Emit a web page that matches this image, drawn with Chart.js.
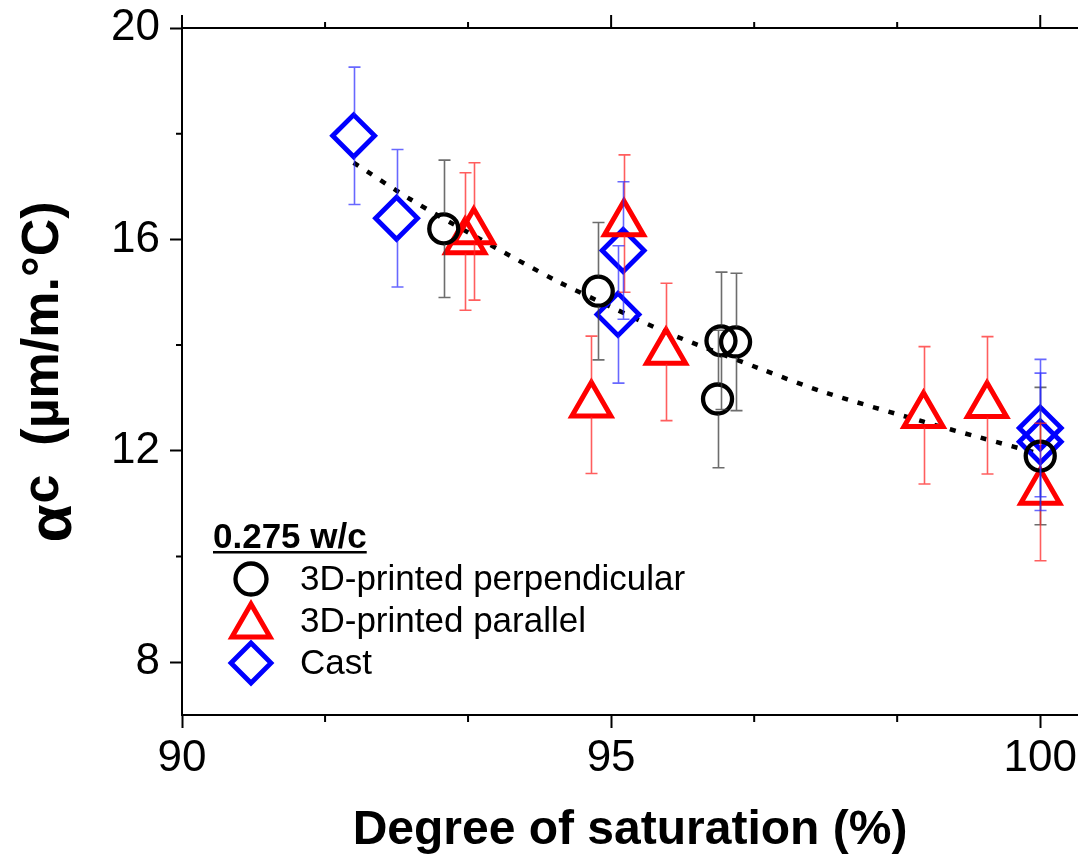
<!DOCTYPE html>
<html><head><meta charset="utf-8">
<script src="https://cdn.jsdelivr.net/npm/chart.js@4.4.1/dist/chart.umd.min.js"></script>
<style>html,body{margin:0;padding:0;background:#fff}#wrap{width:1078px;height:855px}</style>
</head><body><div id="wrap"><canvas id="c" width="1078" height="855"></canvas></div>
<script>
// ---- data ----
const perpX = [93.05, 94.85, 96.24, 96.28, 96.45, 100.0];
const perpY = [16.2, 15.02, 12.98, 14.08, 14.06, 11.9];
const perpErr = [1.3, 1.3, 1.3, 1.3, 1.3, 1.3];

const paraX = [93.3, 93.4, 94.77, 95.15, 95.64, 98.64, 99.38, 100.0];
const paraY = [15.96, 16.15, 12.87, 16.3, 13.87, 12.67, 12.86, 11.22];
const paraErr = [1.3, 1.3, 1.3, 1.3, 1.3, 1.3, 1.3, 1.3];

const castX = [92.0, 92.5, 95.08, 95.14, 100.0, 100.0];
const castY = [17.96, 16.4, 14.58, 15.79, 12.43, 12.17];
const castErr = [1.3, 1.3, 1.3, 1.3, 1.3, 1.3];

const fitX = [92.0, 92.66, 93.39, 94.37, 95.0, 95.63, 96.74, 97.5, 98.64, 99.3, 100.0];
const fitY = [17.45, 16.76, 16.08, 15.21, 14.72, 14.25, 13.55, 13.1, 12.55, 12.25, 11.94];

const xTicks = [90, 95, 100];
const xMinor = [91.667, 93.333, 96.667, 98.333];
const yTicks = [8, 12, 16, 20];
const yMinor = [10, 14, 18];

const legendTitle = '0.275 w/c';
const seriesNames = ['3D-printed perpendicular', '3D-printed parallel', 'Cast'];
const xTitle = 'Degree of saturation (%)';

const FONT = "'Liberation Sans', Arial, sans-serif";
const pts = (xs, ys) => xs.map((x, i) => ({x: x, y: ys[i]}));

const styles = [
  {pointStyle: 'circle', radius: 14.5, bw: 4.3, color: '#000000', err: 'rgba(60,60,60,0.75)', gapT: 15, gapB: 15},
  {pointStyle: 'triangle', radius: 22.5, bw: 5, color: '#ff0000', err: 'rgba(255,40,40,0.75)', gapT: 23, gapB: 12},
  {pointStyle: 'rectRot', radius: 21, bw: 4.8, color: '#0000ff', err: 'rgba(40,40,255,0.7)', gapT: 21, gapB: 21}
];

function scat(label, xs, ys, errs, st) {
  return {type: 'scatter', label: label, data: pts(xs, ys), errors: errs, st: st,
    pointStyle: st.pointStyle, pointRadius: st.radius, pointHoverRadius: st.radius,
    pointBorderWidth: st.bw, borderColor: st.color, pointBorderColor: st.color,
    backgroundColor: 'rgba(0,0,0,0)', pointBackgroundColor: 'rgba(0,0,0,0)', showLine: false, clip: false};
}

const errorBars = {
  id: 'errorBars',
  afterDatasetsDraw(chart) {
    const ctx = chart.ctx, ys = chart.scales.y;
    chart.data.datasets.forEach((ds, i) => {
      if (!ds.errors) return;
      const meta = chart.getDatasetMeta(i), st = ds.st;
      ctx.save();
      ctx.strokeStyle = st.err; ctx.lineWidth = 1.6;
      meta.data.forEach((el, j) => {
        const v = ds.data[j].y, e = ds.errors[j];
        const px = Math.round(el.x) + 0.5, py = el.y;
        const t = ys.getPixelForValue(v + e), b = ys.getPixelForValue(v - e);
        ctx.beginPath();
        ctx.moveTo(px, py - st.gapT); ctx.lineTo(px, t);
        ctx.moveTo(px, py + st.gapB); ctx.lineTo(px, b);
        ctx.moveTo(px - 6, t); ctx.lineTo(px + 6, t);
        ctx.moveTo(px - 6, b); ctx.lineTo(px + 6, b);
        ctx.stroke();
      });
      ctx.restore();
    });
  }
};

function marker(ctx, style, x, y, r, bw, color) {
  ctx.save();
  ctx.strokeStyle = color; ctx.lineWidth = bw; ctx.lineJoin = 'miter';
  ctx.beginPath();
  if (style === 'circle') ctx.arc(x, y, r, 0, Math.PI * 2);
  else if (style === 'triangle') {
    for (let k = 0; k < 3; k++) {
      const a = k * 2 * Math.PI / 3;
      const X = x + Math.sin(a) * r, Y = y - Math.cos(a) * r;
      k ? ctx.lineTo(X, Y) : ctx.moveTo(X, Y);
    }
    ctx.closePath();
  } else {
    ctx.moveTo(x - r, y); ctx.lineTo(x, y - r); ctx.lineTo(x + r, y); ctx.lineTo(x, y + r); ctx.closePath();
  }
  ctx.stroke();
  ctx.restore();
}

const decor = {
  id: 'decor',
  afterDraw(chart) {
    const ctx = chart.ctx, xs = chart.scales.x, ys = chart.scales.y, a = chart.chartArea;
    ctx.save();
    ctx.strokeStyle = '#000'; ctx.lineWidth = 2;
    // top axis
    ctx.beginPath();
    ctx.moveTo(a.left - 1, a.top); ctx.lineTo(a.right, a.top);
    xTicks.forEach(v => { const p = xs.getPixelForValue(v); ctx.moveTo(p, a.top); ctx.lineTo(p, a.top - 13); });
    xMinor.forEach(v => { const p = xs.getPixelForValue(v); ctx.moveTo(p, a.top); ctx.lineTo(p, a.top - 6); });
    // bottom minor
    xMinor.forEach(v => { const p = xs.getPixelForValue(v); ctx.moveTo(p, a.bottom); ctx.lineTo(p, a.bottom + 7); });
    // left minor
    yMinor.forEach(v => { const p = ys.getPixelForValue(v); ctx.moveTo(a.left, p); ctx.lineTo(a.left - 6, p); });
    ctx.stroke();

    // y title (rotated, centred on y = 372)
    ctx.save();
    ctx.fillStyle = '#000';
    ctx.textBaseline = 'alphabetic'; ctx.textAlign = 'left';
    const fA = 'bold 62px ' + FONT, fM = 'bold 52px ' + FONT;
    ctx.font = fA; const wA = ctx.measureText('α').width + 1;
    ctx.font = fM; const wC = ctx.measureText('c').width;
    const rest = '  (µm/m.°C)';
    const wR = ctx.measureText(rest).width;
    const total = wA + wC + wR;
    ctx.translate(58, 372 + total / 2);
    ctx.rotate(-Math.PI / 2);
    ctx.font = fA; ctx.fillText('α', 0, 13);
    ctx.font = fM; ctx.fillText('c', wA, 0);
    ctx.fillText(rest, wA + wC, 0);
    ctx.restore();

    // legend
    ctx.fillStyle = '#000';
    ctx.textAlign = 'left';
    ctx.textBaseline = 'alphabetic';
    ctx.font = 'bold 35px ' + FONT;
    ctx.fillText(legendTitle, 213, 548);
    const w = ctx.measureText(legendTitle).width;
    ctx.fillRect(213, 551, w, 2.5);
    ctx.font = '35px ' + FONT;
    ctx.textBaseline = 'middle';
    const rows = [579, 621, 663];
    const legR = [15.5, 22, 20];
    const legBW = [4.3, 5, 4.8];
    const legDY = [0, 5, 0];
    seriesNames.forEach((n, i) => {
      marker(ctx, styles[i].pointStyle, 251, rows[i] + legDY[i], legR[i], legBW[i], styles[i].color);
      ctx.fillText(n, 300, rows[i] + 1);
    });
    ctx.restore();
  }
};

new Chart(document.getElementById('c'), {
  data: {
    datasets: [
      scat(seriesNames[0], perpX, perpY, perpErr, styles[0]),
      scat(seriesNames[1], paraX, paraY, paraErr, styles[1]),
      scat(seriesNames[2], castX, castY, castErr, styles[2]),
      {type: 'line', label: 'fit', data: pts(fitX, fitY), borderColor: '#000', borderWidth: 4.5,
        borderDash: [6, 10], pointRadius: 0, tension: 0.3, fill: false}
    ]
  },
  options: {
    responsive: false, animation: false, devicePixelRatio: 1,
    layout: {autoPadding: false, padding: {top: 28, right: 0, left: 0, bottom: 0}},
    plugins: {legend: {display: false}, tooltip: {enabled: false}},
    scales: {
      x: {type: 'linear', position: 'bottom', min: 90, max: 100.44,
        afterBuildTicks: s => { s.ticks = xTicks.map(v => ({value: v})); },
        afterFit: s => { s.height = 140; s.paddingLeft = 0; s.paddingRight = 0; },
        grid: {display: true, drawOnChartArea: false, drawTicks: true, tickLength: 13, tickWidth: 2, tickColor: '#000'},
        border: {display: true, color: '#000', width: 2},
        ticks: {font: {family: FONT, size: 44}, color: '#000', padding: 4, maxRotation: 0, autoSkip: false},
        title: {display: true, text: xTitle, color: '#000', font: {family: FONT, size: 48, weight: 'bold'}, padding: {top: 0, bottom: -5}}
      },
      y: {type: 'linear', position: 'left', min: 7, max: 20,
        afterBuildTicks: s => { s.ticks = yTicks.map(v => ({value: v})); },
        afterFit: s => { s.width = 182; s.paddingTop = 0; s.paddingBottom = 0; },
        grid: {display: true, drawOnChartArea: false, drawTicks: true, tickLength: 12, tickWidth: 2, tickColor: '#000'},
        border: {display: true, color: '#000', width: 2},
        ticks: {font: {family: FONT, size: 44}, color: '#000', padding: 10}
      }
    }
  },
  plugins: [errorBars, decor]
});
</script>
</body></html>
